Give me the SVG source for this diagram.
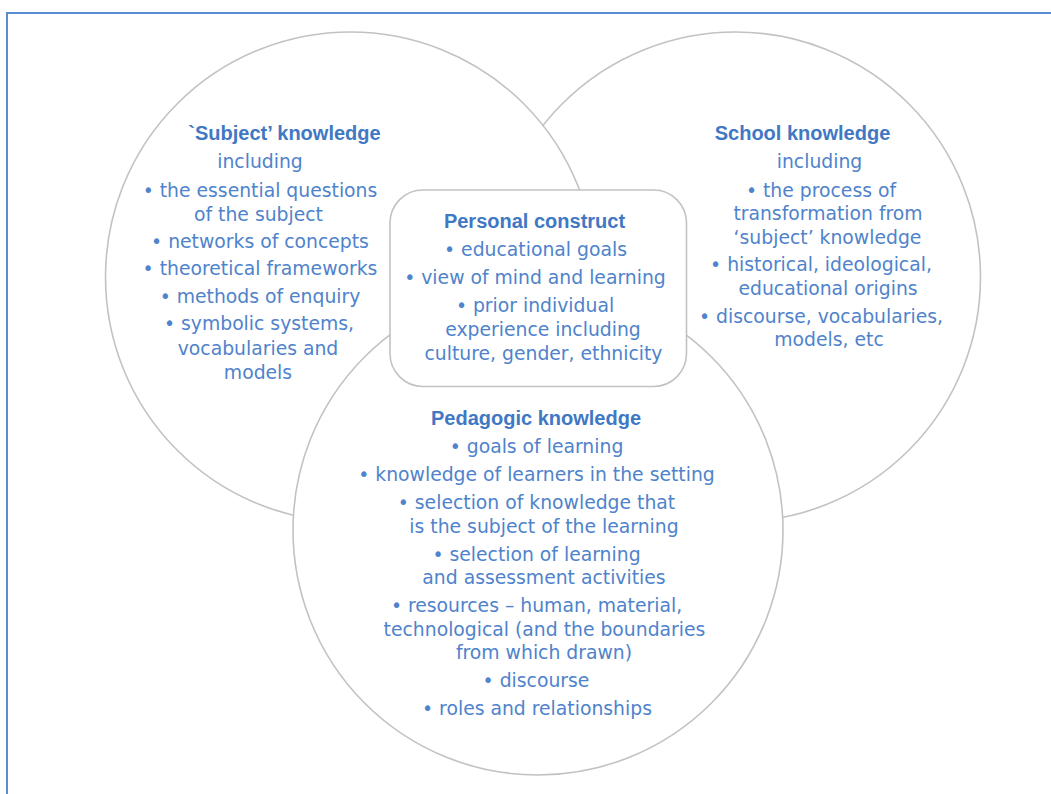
<svg xmlns="http://www.w3.org/2000/svg" width="1051" height="794" viewBox="0 0 1051 794">
<style>
.frame{fill:none;stroke:#5b8bd0;stroke-width:2}
.ring{fill:#fff;stroke:#c2c2c2;stroke-width:1.6}
.t{font-family:"DejaVu Sans",sans-serif;font-size:18.8px;fill:#4f83cb;text-anchor:middle}
.h{font-family:"Liberation Sans",Arial,sans-serif;font-weight:bold;font-size:20px;fill:#4178c4;text-anchor:middle}
</style>
<rect width="1051" height="794" fill="#fff"/>
<path class="frame" d="M7,800 V13 H1060"/>
<g id="school-knowledge">
<circle class="ring" cx="735.5" cy="277" r="245"/>
<text class="h" x="802.5" y="140">School knowledge</text>
<text class="t" x="819.5" y="168">including</text>
<text class="t" x="821" y="197">• the process of</text>
<text class="t" x="828" y="220">transformation from</text>
<text class="t" x="827.5" y="244">‘subject’ knowledge</text>
<text class="t" x="821" y="271">• historical, ideological,</text>
<text class="t" x="828" y="295">educational origins</text>
<text class="t" x="821" y="323">• discourse, vocabularies,</text>
<text class="t" x="829" y="346">models, etc</text>
</g>
<g id="subject-knowledge">
<circle class="ring" cx="350.5" cy="277" r="245"/>
<text class="h" x="284.5" y="140">`Subject’ knowledge</text>
<text class="t" x="260" y="168">including</text>
<text class="t" x="260" y="197">• the essential questions</text>
<text class="t" x="258.5" y="221">of the subject</text>
<text class="t" x="260" y="248">• networks of concepts</text>
<text class="t" x="260" y="275">• theoretical frameworks</text>
<text class="t" x="260" y="303">• methods of enquiry</text>
<text class="t" x="259" y="330">• symbolic systems,</text>
<text class="t" x="258" y="355">vocabularies and</text>
<text class="t" x="258" y="379">models</text>
</g>
<g id="pedagogic-knowledge">
<circle class="ring" cx="538" cy="530" r="245"/>
<text class="h" x="536" y="425">Pedagogic knowledge</text>
<text class="t" x="536.5" y="453">• goals of learning</text>
<text class="t" x="536.5" y="481">• knowledge of learners in the setting</text>
<text class="t" x="536.5" y="509">• selection of knowledge that</text>
<text class="t" x="544" y="533">is the subject of the learning</text>
<text class="t" x="536.5" y="561">• selection of learning</text>
<text class="t" x="544" y="584">and assessment activities</text>
<text class="t" x="536.5" y="612">• resources – human, material,</text>
<text class="t" x="544.5" y="636">technological (and the boundaries</text>
<text class="t" x="544" y="659">from which drawn)</text>
<text class="t" x="536" y="687">• discourse</text>
<text class="t" x="537" y="715">• roles and relationships</text>
</g>
<g id="personal-construct">
<rect class="ring" x="390" y="190" width="296.5" height="196.5" rx="33" ry="33"/>
<text class="h" x="534.5" y="228">Personal construct</text>
<text class="t" x="535.5" y="256">• educational goals</text>
<text class="t" x="535" y="284">• view of mind and learning</text>
<text class="t" x="535" y="312">• prior individual</text>
<text class="t" x="543" y="336">experience including</text>
<text class="t" x="543.5" y="360">culture, gender, ethnicity</text>
</g>
<g id="connectors"></g>
</svg>
